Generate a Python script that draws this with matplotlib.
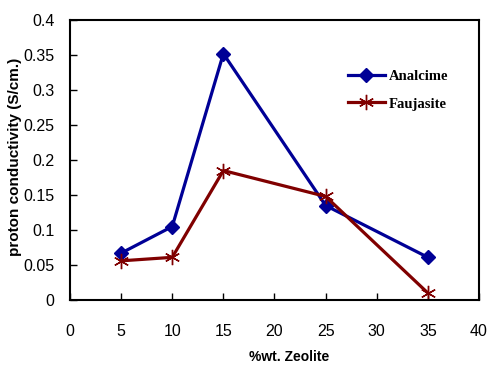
import matplotlib.pyplot as plt

zeolite_wt = [5, 10, 15, 25, 35]
analcime = [0.067, 0.105, 0.352, 0.135, 0.061]
faujasite = [0.056, 0.061, 0.185, 0.148, 0.010]

xticks = [0, 5, 10, 15, 20, 25, 30, 35, 40]
yticks = [0, 0.05, 0.1, 0.15, 0.2, 0.25, 0.3, 0.35, 0.4]
ytick_labels = ['0', '0.05', '0.1', '0.15', '0.2', '0.25', '0.3', '0.35', '0.4']

plt.rcParams['font.family'] = ['Liberation Sans Narrow', 'Liberation Sans', 'DejaVu Sans']

fig = plt.figure(figsize=(4.87, 3.65), dpi=100)
ax = fig.add_axes([0.1437, 0.178, 0.8399, 0.767])

ax.plot(zeolite_wt, analcime, color='#000096', lw=2.3, marker='D', ms=7,
        label='Analcime')
ax.plot(zeolite_wt, faujasite, color='#800000', lw=2.3, marker=(6, 2, 0), ms=11,
        mew=1.0, label='Faujasite')

ax.set_xlim(0, 40)
ax.set_ylim(0, 0.4)
ax.set_xticks(xticks)
ax.set_yticks(yticks)
ax.set_yticklabels(ytick_labels)
ax.tick_params(direction='in', length=5, width=1, labelsize=11.5)
ax.tick_params(axis='x', pad=17)
ax.tick_params(axis='y', pad=11)
for s in ax.spines.values():
    s.set_linewidth(1.5)

ax.set_xlabel('%wt. Zeolite', fontsize=10, fontweight='bold',
              family=['Liberation Sans', 'DejaVu Sans'])
ax.xaxis.set_label_coords(0.535, -0.18)
ax.set_ylabel('proton conductivity (S/cm.)', fontsize=11, fontweight='bold',
              family=['Liberation Sans', 'DejaVu Sans'])
ax.yaxis.set_label_coords(-0.118, 0.51)

ax.legend(loc='upper left', bbox_to_anchor=(0.648, 0.87), frameon=False,
          handlelength=2.5, labelspacing=1.0, handletextpad=0.3,
          prop={'family': 'Liberation Serif', 'weight': 'bold', 'size': 10.5})

fig.savefig('out.png', dpi=100)
